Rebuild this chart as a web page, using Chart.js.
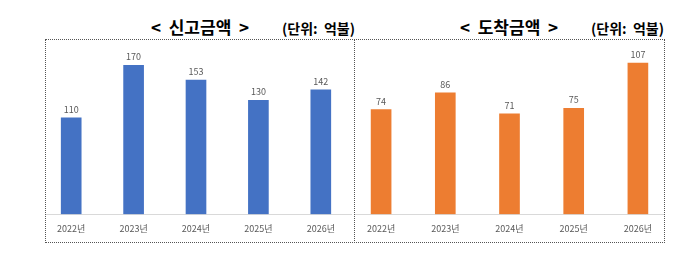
<!DOCTYPE html>
<html>
<head>
<meta charset="utf-8">
<script src="https://cdn.jsdelivr.net/npm/chart.js@4.4.1/dist/chart.umd.min.js"></script>
<style>
  body { margin: 0; background: #fff; width: 692px; height: 264px; overflow: hidden; position: relative; font-family: "Noto Sans CJK KR", sans-serif; }
  .title { position: absolute; top: 17px; width: 170px; text-align: center; font-weight: bold; font-size: 17px; line-height: 20px; color: #000; white-space: pre; }
  .unit { position: absolute; top: 18px; font-weight: bold; font-size: 14px; line-height: 20px; color: #000; white-space: pre; }
  .box { position: absolute; top: 39px; height: 204px; border: 1px dotted #555; box-sizing: border-box; }
  .clip { position: absolute; top: 0; height: 264px; overflow: hidden; }
  canvas { position: absolute; top: 0; }
</style>
</head>
<body>
<div class="title" style="left:115px">&lt;  신고금액  &gt;</div>
<div class="unit" style="left:282px">(단위:  억불)</div>
<div class="title" style="left:424px">&lt;  도착금액  &gt;</div>
<div class="unit" style="left:591px">(단위:  억불)</div>

<div class="clip" style="left:45px; width:309px"><canvas id="report-chart" width="312" height="264" style="left:-5px"></canvas></div>
<div class="clip" style="left:354px; width:310px"><canvas id="arrive-chart" width="321" height="264" style="left:-5px"></canvas></div>

<div class="box" style="left:45px; width:310px"></div>
<div class="box" style="left:354px; width:311px"></div>

<script>
var years = ['2022년', '2023년', '2024년', '2025년', '2026년'];
var reportAmt = [110, 170, 153, 130, 142];
var arriveAmt = [74, 86, 71, 75, 107];

// values printed above each bar
var valueLabels = {
  id: 'valueLabels',
  afterDatasetsDraw(chart) {
    const ctx = chart.ctx;
    const ds = chart.data.datasets[0];
    ctx.save();
    ctx.font = '9px "Noto Sans CJK KR"';
    ctx.fillStyle = '#595959';
    ctx.textAlign = 'center';
    ctx.textBaseline = 'bottom';
    chart.getDatasetMeta(0).data.forEach(function (bar, i) {
      ctx.fillText(ds.data[i], bar.x, bar.y - 4);
    });
    ctx.restore();
  }
};

function barChart(id, values, color, yMax, padTop) {
  const ctx = document.getElementById(id);
  return new Chart(ctx, {
    type: 'bar',
    data: {
      labels: years,
      datasets: [{
        data: values,
        backgroundColor: color,
        barThickness: 20
      }]
    },
    options: {
      responsive: false,
      animation: false,
      layout: { padding: { top: padTop, bottom: 21, left: 0, right: 0 } },
      scales: {
        x: {
          grid: { display: false, drawTicks: false },
          border: { color: '#d9d9d9' },
          ticks: {
            color: '#595959',
            font: { family: 'Noto Sans CJK KR', size: 9 },
            padding: 9
          }
        },
        y: { display: false, min: 0, max: yMax }
      },
      plugins: {
        legend: { display: false },
        tooltip: { enabled: false }
      }
    },
    plugins: [valueLabels]
  });
}

barChart('report-chart', reportAmt, '#4472C4', 200, 39);
barChart('arrive-chart', arriveAmt, '#ED7D31', 120, 44.7);
</script>
</body>
</html>
